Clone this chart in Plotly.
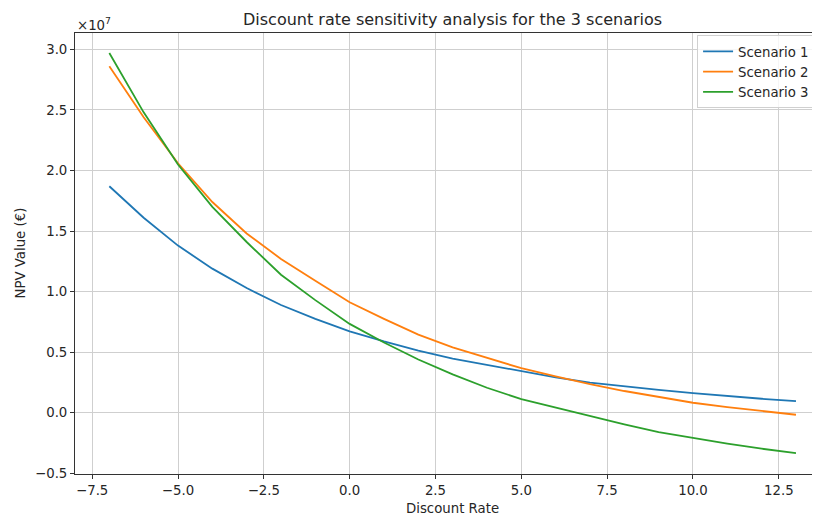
import plotly.graph_objects as go

discount_rate = [-7, -6, -5, -4, -3, -2, -1, 0, 1, 2, 3, 4, 5, 6, 7, 8, 9, 10, 11, 12, 13]

scenario_1 = [18700000, 16100000, 13800000, 11900000, 10300000, 8900000, 7750000, 6730000,
              5900000, 5140000, 4480000, 3960000, 3410000, 2920000, 2500000, 2180000,
              1900000, 1620000, 1370000, 1160000, 960000]
scenario_2 = [28600000, 24400000, 20600000, 17400000, 14800000, 12700000, 10900000, 9120000,
              7750000, 6450000, 5400000, 4520000, 3680000, 3000000, 2360000, 1800000,
              1290000, 830000, 470000, 130000, -160000]
scenario_3 = [29700000, 24800000, 20500000, 17000000, 14100000, 11400000, 9300000, 7340000,
              5800000, 4400000, 3170000, 2070000, 1130000, 420000, -270000, -950000,
              -1590000, -2080000, -2540000, -2960000, -3320000]

names = ["Scenario 1", "Scenario 2", "Scenario 3"]
colors = ["#1f77b4", "#ff7f0e", "#2ca02c"]

y_ticks = [-0.5e7, 0, 0.5e7, 1.0e7, 1.5e7, 2.0e7, 2.5e7, 3.0e7]
y_ticktext = ["\u22120.5", "0.0", "0.5", "1.0", "1.5", "2.0", "2.5", "3.0"]
x_ticks = [-7.5, -5.0, -2.5, 0.0, 2.5, 5.0, 7.5, 10.0, 12.5]
x_ticktext = ["\u22127.5", "\u22125.0", "\u22122.5", "0.0", "2.5", "5.0", "7.5", "10.0", "12.5"]

FONT = "DejaVu Sans"
FS = 13.3
TXT = "#262626"

fig = go.Figure()
for name, vals, c in zip(names, [scenario_1, scenario_2, scenario_3], colors):
    fig.add_trace(go.Scatter(x=discount_rate, y=vals, mode="lines", name=name,
                             line=dict(color=c, width=1.8)))

# page body has an 8px default margin, so the figure is sized/offset to compensate
fig.update_layout(
    width=812, height=508,
    margin=dict(l=67, r=0, t=25, b=42, autoexpand=False),
    paper_bgcolor="white", plot_bgcolor="white",
    font=dict(family=FONT, size=FS, color=TXT),
    showlegend=True,
    legend=dict(x=0.835, y=0.995, xanchor="left", yanchor="top",
                bgcolor="rgba(255,255,255,0.8)", bordercolor="#d0d0d0", borderwidth=1,
                font=dict(family=FONT, size=FS, color=TXT),
                itemwidth=30, tracegroupgap=0),
    xaxis=dict(range=[-8, 13.70], tickvals=x_ticks, ticktext=x_ticktext,
               showgrid=True, gridcolor="#cfcfcf", gridwidth=1,
               zeroline=False, showline=True, linecolor="#333", linewidth=1,
               mirror=True, ticks="outside", ticklen=4, tickcolor="#333",
               tickfont=dict(family=FONT, size=FS, color=TXT)),
    yaxis=dict(range=[-0.505e7, 3.135e7], tickvals=y_ticks, ticktext=y_ticktext,
               showgrid=True, gridcolor="#cfcfcf", gridwidth=1,
               zeroline=False, showline=True, linecolor="#333", linewidth=1,
               ticks="outside", ticklen=4, tickcolor="#333",
               tickfont=dict(family=FONT, size=FS, color=TXT)),
)

fig.add_annotation(text="Discount rate sensitivity analysis for the 3 scenarios",
                   xref="x", yref="paper", x=3, y=1, yshift=14,
                   xanchor="center", yanchor="middle", showarrow=False,
                   font=dict(family=FONT, size=16, color=TXT))
fig.add_annotation(text="\u00d710<sup>7</sup>", xref="paper", yref="paper", x=0, y=1,
                   xanchor="left", yanchor="bottom", showarrow=False, yshift=-2,
                   font=dict(family=FONT, size=FS, color=TXT))
fig.add_annotation(text="Discount Rate", xref="x", yref="paper", x=3, y=0, yshift=-34,
                   xanchor="center", yanchor="middle", showarrow=False,
                   font=dict(family=FONT, size=FS, color=TXT))
fig.add_annotation(text="NPV Value (\u20ac)", xref="paper", yref="paper",
                   x=-0.0738, y=0.5, textangle=-90,
                   xanchor="center", yanchor="middle", showarrow=False,
                   font=dict(family=FONT, size=FS, color=TXT))

fig.write_html("out.html")
